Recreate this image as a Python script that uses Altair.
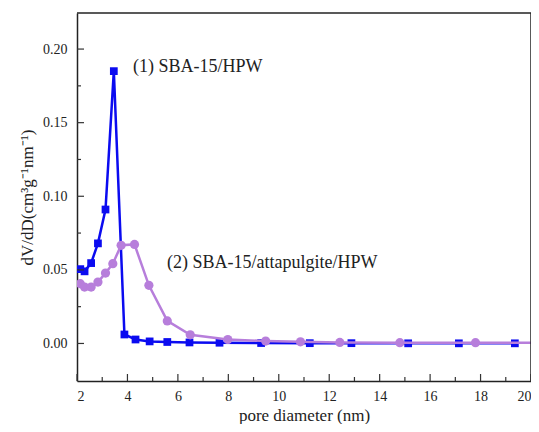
import altair as alt
import pandas as pd

# Series 1: SBA-15/HPW
blue_x = [2.13, 2.30, 2.56, 2.83, 3.13, 3.46, 3.88, 4.32, 4.88, 5.58, 6.46, 7.65, 9.30, 11.23, 12.88, 15.13, 17.14, 19.36]
blue_y = [0.0505, 0.0490, 0.0546, 0.0680, 0.0910, 0.1850, 0.0061, 0.0027, 0.0014, 0.0010, 0.0007, 0.0005, 0.0003, 0.0002, 0.0002, 0.0001, 0.0001, 0.0001]

# Series 2: SBA-15/attapulgite/HPW
purple_x = [2.13, 2.30, 2.56, 2.83, 3.13, 3.42, 3.75, 4.28, 4.85, 5.58, 6.49, 7.98, 9.48, 10.86, 12.42, 14.80, 17.80, 21.00]
purple_y = [0.0406, 0.0383, 0.0383, 0.0417, 0.0478, 0.0542, 0.0667, 0.0673, 0.0395, 0.0153, 0.0059, 0.0027, 0.0016, 0.0011, 0.0007, 0.0005, 0.0005, 0.0004]

# Tick positions
x_major = [2, 4, 6, 8, 10, 12, 14, 16, 18, 20]
x_minor = [3, 5, 7, 9, 11, 13, 15, 17, 19]
y_major = [0.0, 0.05, 0.10, 0.15, 0.20]
y_minor = [0.025, 0.075, 0.125, 0.175]

# Axis ranges
x_range = [2, 20]
y_range = [-0.0255, 0.2245]

# Annotations
ann_text = ["(1) SBA-15/HPW", "(2) SBA-15/attapulgite/HPW"]
ann_x = [4.22, 5.57]
ann_y = [0.188, 0.055]

BLUE = "#0b0bf0"
PURPLE = "#b77edb"
FONT = "Liberation Serif"
W, H = 454, 368

df_blue = pd.DataFrame({"x": blue_x, "y": blue_y})
df_purple = pd.DataFrame({"x": purple_x, "y": purple_y})
df_ann = pd.DataFrame({"x": ann_x, "y": ann_y, "t": ann_text})

xscale = alt.Scale(domain=x_range, nice=False, zero=False)
yscale = alt.Scale(domain=y_range, nice=False, zero=False)

xaxis = alt.Axis(values=x_major, format="d", tickSize=0, domain=True, domainColor="#222", domainWidth=1.5,
                 grid=False, labelPadding=8, labelFontSize=14, labelFont=FONT, labelColor="#222",
                 title="pore diameter (nm)", titleFont=FONT, titleFontSize=17,
                 titleFontWeight="normal", titleColor="#222", titlePadding=4)
yaxis = alt.Axis(values=y_major, format=".2f", tickSize=0, domain=True, domainColor="#222", domainWidth=1.5,
                 grid=False, labelPadding=10, labelFontSize=14, labelFont=FONT, labelColor="#222",
                 title="dV/dD(cm³g⁻¹nm⁻¹)", titleFont=FONT, titleFontSize=17,
                 titleFontWeight="normal", titleColor="#222", titlePadding=6)

X = alt.X("x:Q", scale=xscale, axis=xaxis)
Y = alt.Y("y:Q", scale=yscale, axis=yaxis)

blue_line = alt.Chart(df_blue).mark_line(color=BLUE, strokeWidth=2.5, clip=True).encode(x=X, y=Y)
blue_pts = alt.Chart(df_blue).mark_point(shape="square", filled=True, color=BLUE, size=60, opacity=1, clip=True).encode(x=X, y=Y)
purple_line = alt.Chart(df_purple).mark_line(color=PURPLE, strokeWidth=2.5, clip=True).encode(x=X, y=Y)
purple_pts = alt.Chart(df_purple).mark_point(shape="circle", filled=True, color=PURPLE, size=85, opacity=1, clip=True).encode(x=X, y=Y)

ann = alt.Chart(df_ann).mark_text(align="left", baseline="middle", font=FONT, fontSize=18, color="#222").encode(
    x=X, y=Y, text="t:N")

def xticks(vals, length):
    return alt.Chart(pd.DataFrame({"x": vals})).mark_rule(color="#333", strokeWidth=1.2).encode(
        x=X, y=alt.value(H), y2=alt.value(H - length))

def yticks(vals, length):
    return alt.Chart(pd.DataFrame({"y": vals})).mark_rule(color="#333", strokeWidth=1.2).encode(
        y=Y, x=alt.value(0), x2=alt.value(length))

frame_r = alt.Chart(pd.DataFrame({"x": [x_range[1]]})).mark_rule(color="#222", strokeWidth=1.5).encode(
    x=X, y=alt.value(0), y2=alt.value(H))
frame_t = alt.Chart(pd.DataFrame({"y": [y_range[1]]})).mark_rule(color="#222", strokeWidth=1.5).encode(
    y=Y, x=alt.value(0), x2=alt.value(W))

chart = alt.layer(
    blue_line, blue_pts, purple_line, purple_pts, ann,
    xticks(x_major, 7), xticks(x_minor, 4), yticks(y_major, 7), yticks(y_minor, 4),
    frame_r, frame_t,
).properties(
    width=W, height=H,
    autosize=alt.AutoSizeParams(type="none"),
    padding={"left": 69, "top": 5, "right": 0, "bottom": 43},
    background="white",
).configure_view(strokeWidth=0)

chart.save("out.html", embed_options={"renderer": "svg", "actions": False})
